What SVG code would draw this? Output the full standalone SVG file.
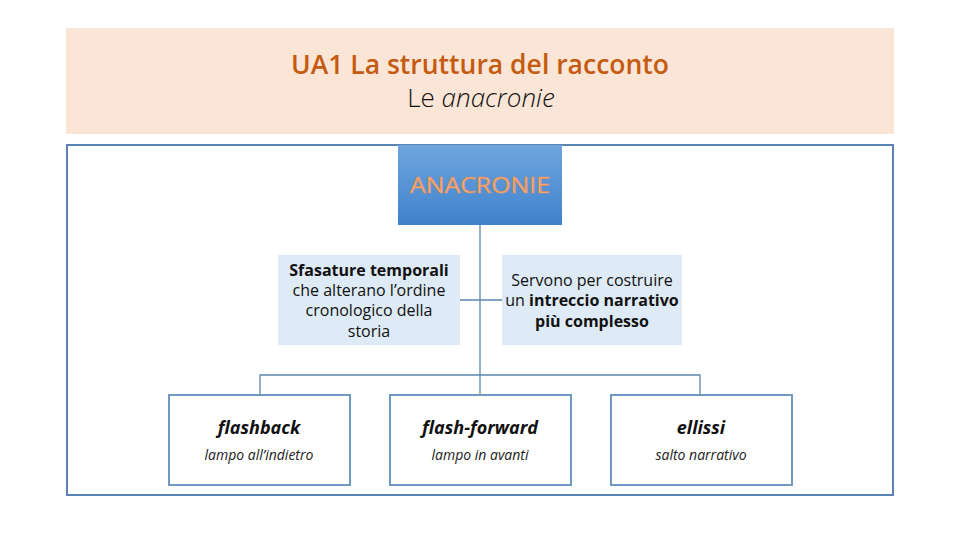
<svg xmlns="http://www.w3.org/2000/svg" width="960" height="540" viewBox="0 0 960 540">
<defs>
<linearGradient id="g" x1="0" y1="0" x2="0" y2="1">
<stop offset="0" stop-color="#6FA5DE"/>
<stop offset="1" stop-color="#3F82CC"/>
</linearGradient>
<style>
text{font-family:"Open Sans","Liberation Sans",sans-serif;text-anchor:middle}
.mid{fill:#DEEAF6}
.leaf{fill:#fff;stroke:#6F9AC3;stroke-width:2}
.conn{stroke:#5B85AE;stroke-width:1.3;fill:none}
.t{font-size:16px;fill:#111}
.b{font-weight:bold}
.h{font-size:18px;font-weight:bold;font-style:italic;fill:#111}
.s{font-size:14px;font-style:italic;fill:#222}
</style>
</defs>
<rect width="960" height="540" fill="#fff"/>
<g id="header">
<rect x="66" y="28" width="828" height="106" fill="#FBE5D6"/>
<text x="480" y="74" font-size="27" font-weight="600" fill="#C55A11" textLength="378" lengthAdjust="spacingAndGlyphs">UA1 La struttura del racconto</text>
<text x="481" y="107" font-size="26" font-weight="300" fill="#111">Le <tspan font-style="italic">anacronie</tspan></text>
</g>
<rect x="67" y="145" width="826" height="350" fill="none" stroke="#5A84B4" stroke-width="2"/>
<g id="connectors">
<path class="conn" d="M480 225V375M460 300H502M260 395V375H700V395M480 375V395"/>
</g>
<g id="root">
<rect x="398" y="145" width="164" height="80" fill="url(#g)"/>
<text x="480" y="193" font-size="21" fill="#F4B183" stroke="#E08B4F" stroke-width="0.6" textLength="140" lengthAdjust="spacingAndGlyphs">ANACRONIE</text>
</g>
<g id="left">
<rect class="mid" x="278" y="255" width="182" height="90"/>
<text class="t" x="369" y="276"><tspan class="b">Sfasature temporali</tspan><tspan x="369" dy="20">che alterano l’ordine</tspan><tspan x="369" dy="20">cronologico della</tspan><tspan x="369" dy="21">storia</tspan></text>
</g>
<g id="right">
<rect class="mid" x="502" y="255" width="180" height="90"/>
<text class="t" x="592" y="286">Servono per costruire<tspan x="592" dy="20">un <tspan class="b">intreccio narrativo</tspan></tspan><tspan x="592" dy="21" class="b">più complesso</tspan></text>
</g>
<g id="flashback">
<rect class="leaf" x="169" y="395" width="181" height="90"/>
<text class="h" x="259" y="434">flashback</text>
<text class="s" x="259" y="460">lampo all’indietro</text>
</g>
<g id="flashforward">
<rect class="leaf" x="390" y="395" width="181" height="90"/>
<text class="h" x="480" y="434">flash-forward</text>
<text class="s" x="480" y="460">lampo in avanti</text>
</g>
<g id="ellissi">
<rect class="leaf" x="611" y="395" width="181" height="90"/>
<text class="h" x="701" y="434">ellissi</text>
<text class="s" x="701" y="460">salto narrativo</text>
</g>
</svg>
